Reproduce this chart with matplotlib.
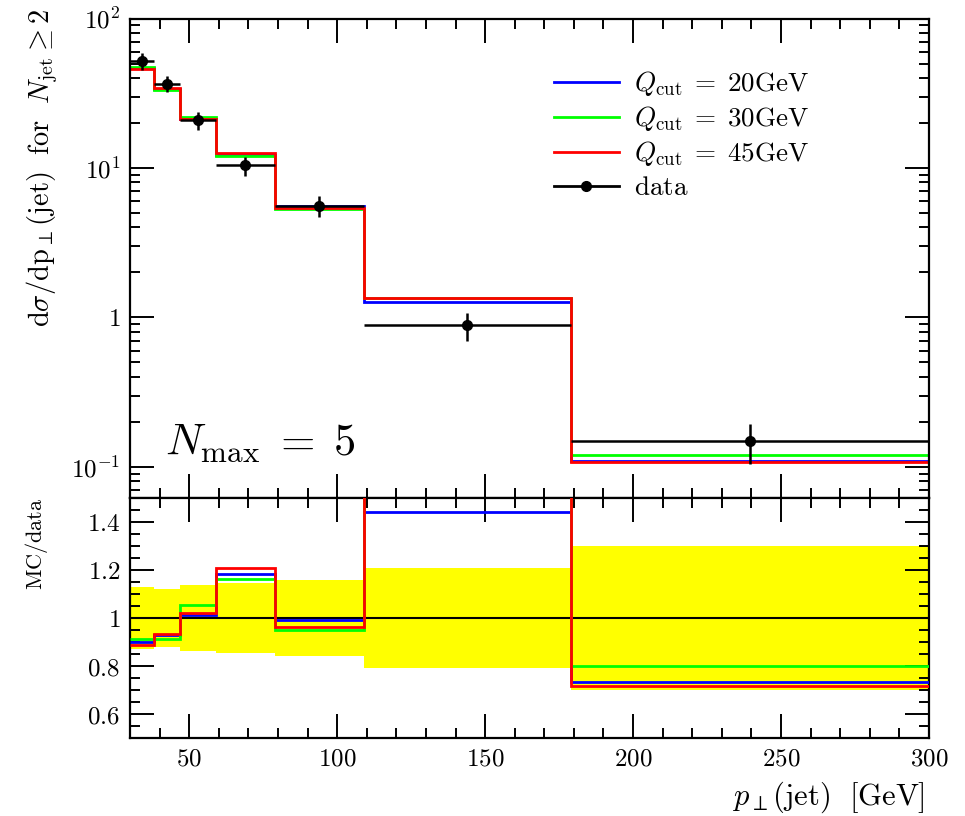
import numpy as np
import matplotlib
matplotlib.use("Agg")
import matplotlib.pyplot as plt
from matplotlib.ticker import FixedLocator, MultipleLocator, FuncFormatter, NullFormatter
from matplotlib.lines import Line2D

plt.rcParams['mathtext.fontset'] = 'cm'
plt.rcParams['font.family'] = 'serif'
plt.rcParams['font.serif'] = ['DejaVu Serif']

# ---- data ----
bin_edges = [30, 38, 47, 59, 79, 109, 179, 300]
data_vals = [52.0, 36.5, 20.9, 10.4, 5.6, 0.884, 0.150]
data_relerr = [0.128, 0.122, 0.136, 0.145, 0.16, 0.21, 0.30]
mc_q20 = [46.8, 33.84, 21.19, 12.30, 5.56, 1.275, 0.1098]
mc_q30 = [47.42, 33.29, 22.05, 12.11, 5.32, 1.345, 0.120]
mc_q45 = [46.23, 34.13, 21.36, 12.56, 5.38, 1.36, 0.1073]
labels = [r'$Q_{\mathrm{cut}}\;=\;20\mathrm{GeV}$',
          r'$Q_{\mathrm{cut}}\;=\;30\mathrm{GeV}$',
          r'$Q_{\mathrm{cut}}\;=\;45\mathrm{GeV}$']
colors = ['#0000ff', '#00ff00', '#ff0000']

edges = np.array(bin_edges, float)
data = np.array(data_vals)
relerr = np.array(data_relerr)
centers = 0.5 * (edges[:-1] + edges[1:])
halfw = 0.5 * (edges[1:] - edges[:-1])
mcs = [np.array(mc_q20), np.array(mc_q30), np.array(mc_q45)]

W, H = 965, 816
fig = plt.figure(figsize=(W / 100, H / 100), dpi=100)
L, R = 130, 929
ax1 = fig.add_axes([L / W, 1 - 498 / H, (R - L) / W, (498 - 18.5) / H])
ax2 = fig.add_axes([L / W, 1 - 738 / H, (R - L) / W, 240 / H])

FS = 18
lw = 2.0

# main panel
handles = []
for mc, c, lab in zip(mcs, colors, labels):
    ax1.stairs(mc, edges, baseline=None, color=c, lw=lw)
    handles.append(Line2D([], [], color=c, lw=lw, label=lab))
ax1.errorbar(centers, data, xerr=halfw, yerr=data * relerr, fmt='o', color='black',
             ms=7, lw=1.8, capsize=0, zorder=5)
handles.append(Line2D([], [], color='black', lw=lw, marker='o', ms=7,
                      label=r'$\mathrm{data}$'))
ax1.set_yscale('log')
ax1.set_xlim(30, 300)
ax1.set_ylim(0.062, 100)
ax1.yaxis.set_major_locator(FixedLocator([0.1, 1, 10, 100]))
ax1.set_yticklabels([r'$10^{-1}$', r'$1$', r'$10^{1}$', r'$10^{2}$'])
ax1.yaxis.set_minor_locator(matplotlib.ticker.LogLocator(base=10, subs=np.arange(2, 10)))
ax1.yaxis.set_minor_formatter(NullFormatter())
ax1.xaxis.set_major_locator(MultipleLocator(50))
ax1.xaxis.set_minor_locator(MultipleLocator(10))
ax1.xaxis.set_major_formatter(NullFormatter())
ax1.set_ylabel(r'$\mathrm{d}\sigma/\mathrm{dp}_{\perp}(\mathrm{jet})\ \ \mathrm{for}\ \ N_{\mathrm{jet}} \geq 2$',
               fontsize=20.5, ha='right')
ax1.yaxis.set_label_coords(-0.088, 1.02)
ax1.text(0.044, 0.115, r'$N_{\mathrm{max}}\;=\;5$', transform=ax1.transAxes,
         fontsize=32, va='center', ha='left')
leg = ax1.legend(handles=handles, loc='upper left', bbox_to_anchor=(0.50, 0.945), frameon=False,
                 fontsize=19.5, handlelength=2.4, handletextpad=0.55, labelspacing=0.22)

# ratio panel
band_lo = 1 - relerr
band_hi = 1 + relerr
for i in range(len(data)):
    ax2.fill_between([edges[i], edges[i + 1]], band_lo[i], band_hi[i],
                     color='#ffff00', lw=0, zorder=1)
ax2.axhline(1.0, color='black', lw=1.5, zorder=3)
for mc, c in zip(mcs, colors):
    ax2.stairs(mc / data, edges, baseline=None, color=c, lw=lw, zorder=4)
ax2.set_xlim(30, 300)
ax2.set_ylim(0.5, 1.5)
ax2.yaxis.set_major_locator(FixedLocator([0.6, 0.8, 1.0, 1.2, 1.4]))
ax2.yaxis.set_major_formatter(FuncFormatter(lambda v, p: r'$%g$' % round(v, 2)))
ax2.yaxis.set_minor_locator(MultipleLocator(0.05))
ax2.xaxis.set_major_locator(MultipleLocator(50))
ax2.xaxis.set_minor_locator(MultipleLocator(10))
ax2.xaxis.set_major_formatter(FuncFormatter(lambda v, p: r'$%d$' % v))
ax2.set_ylabel(r'$\mathrm{MC/data}$', fontsize=16, ha='right')
ax2.yaxis.set_label_coords(-0.1, 1.0)
ax2.set_xlabel(r'$p_{\perp}(\mathrm{jet})\ \ [\mathrm{GeV}]$', fontsize=22, ha='right', va='center')
ax2.xaxis.set_label_coords(0.995, -0.246)

for ax in (ax1, ax2):
    ax.tick_params(which='both', direction='in', top=True, right=True, labelsize=FS, width=1.4)
    ax.tick_params(which='major', length=17, pad=7)
    ax.tick_params(which='minor', length=7)
    for s in ax.spines.values():
        s.set_linewidth(1.6)

fig.savefig('out.png', dpi=100)
